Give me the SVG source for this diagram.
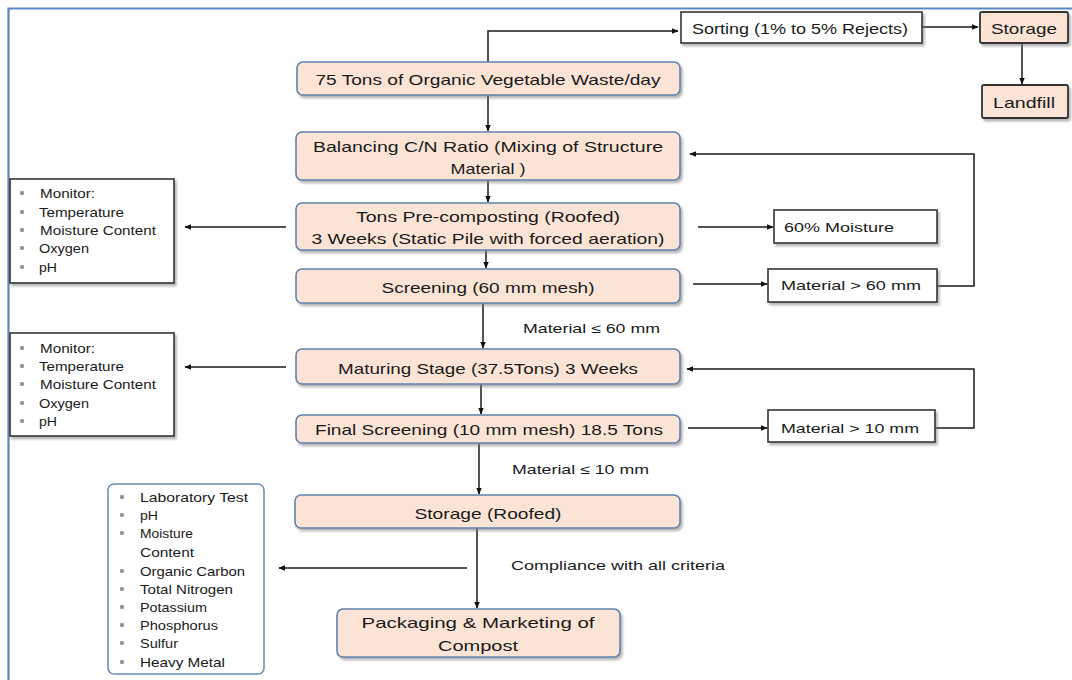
<svg xmlns="http://www.w3.org/2000/svg" width="1072" height="680" viewBox="0 0 1072 680">
  <defs>
    <filter id="shadow" x="-10%" y="-20%" width="120%" height="150%">
      <feDropShadow dx="2" dy="2.5" stdDeviation="1.2" flood-color="#7a7a7a" flood-opacity="0.55"/>
    </filter>
    <marker id="arrow" viewBox="0 0 10 10" refX="9" refY="5" markerWidth="7" markerHeight="7" markerUnits="userSpaceOnUse" orient="auto">
      <path d="M0,1 L10,5 L0,9 z" fill="#111"/>
    </marker>
    <!-- list bullet, centred on its anchor point -->
    <rect id="dot" x="-1.8" y="-1.8" width="3.6" height="3.6" fill="#8a8a8a"/>
    <style>
      .stage { fill: #fbe4d5; stroke: #5f83ad; stroke-width: 1.6; filter: url(#shadow); }
      .tail { fill: #fbe4d5; stroke: #333; stroke-width: 1.8; filter: url(#shadow); }
      .plain { fill: #fff; stroke: #333; stroke-width: 1.6; filter: url(#shadow); }
      .lab { fill: #fff; stroke: #6f8fb6; stroke-width: 1.6; }
      .frame { fill: none; stroke: #5b87c5; stroke-width: 2.2; }
      .t { font-family: "Liberation Sans", Arial, sans-serif; font-size: 15px; fill: #1a1a1a; text-anchor: middle; dominant-baseline: central; }
      .s { font-family: "Liberation Sans", Arial, sans-serif; font-size: 13px; fill: #1a1a1a; dominant-baseline: central; }
      .c path { fill: none; stroke: #1a1a1a; stroke-width: 1.5; }
    </style>
  </defs>

  <rect width="1072" height="680" fill="#fff"/>
  <path class="frame" d="M8.5,680 V8.5 H1072"/>

  <!-- connectors -->
  <g id="connectors" class="c">
    <path d="M488,62 V31 H678" marker-end="url(#arrow)"/>
    <path d="M922,27 H978" marker-end="url(#arrow)"/>
    <path d="M1022,43 V84" marker-end="url(#arrow)"/>
    <path d="M488,95 V131" marker-end="url(#arrow)"/>
    <path d="M488,180 V202" marker-end="url(#arrow)"/>
    <path d="M486,250 V268" marker-end="url(#arrow)"/>
    <path d="M483,303 V348" marker-end="url(#arrow)"/>
    <path d="M481,384 V414" marker-end="url(#arrow)"/>
    <path d="M479,443 V494" marker-end="url(#arrow)"/>
    <path d="M477,528 V608" marker-end="url(#arrow)"/>
    <path d="M698,227 H773" marker-end="url(#arrow)"/>
    <path d="M693,284 H767" marker-end="url(#arrow)"/>
    <path d="M937,286 H974 V154 H690" marker-end="url(#arrow)"/>
    <path d="M688,428 H767" marker-end="url(#arrow)"/>
    <path d="M935,428 H974 V369 H687" marker-end="url(#arrow)"/>
    <path d="M286,227 H185" marker-end="url(#arrow)"/>
    <path d="M286,367 H185" marker-end="url(#arrow)"/>
    <path d="M467,568 H279" marker-end="url(#arrow)"/>
  </g>

  <!-- main process stages -->
  <g id="waste-input">
    <rect class="stage" x="297" y="62" width="383" height="33" rx="6"/>
    <text class="t" x="488" y="79" textLength="345" lengthAdjust="spacingAndGlyphs">75 Tons of Organic Vegetable Waste/day</text>
  </g>
  <g id="sorting">
    <rect class="plain" x="681" y="12" width="241" height="31"/>
    <text class="t" x="800" y="28" textLength="216" lengthAdjust="spacingAndGlyphs">Sorting (1% to 5% Rejects)</text>
  </g>
  <g id="reject-storage">
    <rect class="tail" x="980" y="12" width="88" height="31" rx="2"/>
    <text class="t" x="1024" y="28" textLength="66" lengthAdjust="spacingAndGlyphs">Storage</text>
  </g>
  <g id="landfill">
    <rect class="tail" x="982" y="85" width="86" height="33" rx="2"/>
    <text class="t" x="1024" y="102" textLength="62" lengthAdjust="spacingAndGlyphs">Landfill</text>
  </g>
  <g id="balancing">
    <rect class="stage" x="296" y="132" width="384" height="48" rx="6"/>
    <text class="t" x="488" y="146" textLength="350" lengthAdjust="spacingAndGlyphs">Balancing C/N Ratio (Mixing of Structure</text>
    <text class="t" x="488" y="168" textLength="75" lengthAdjust="spacingAndGlyphs">Material )</text>
  </g>
  <g id="pre-composting">
    <rect class="stage" x="296" y="203" width="384" height="47" rx="6"/>
    <text class="t" x="488" y="216" textLength="264" lengthAdjust="spacingAndGlyphs">Tons Pre-composting (Roofed)</text>
    <text class="t" x="488" y="238" textLength="353" lengthAdjust="spacingAndGlyphs">3 Weeks (Static Pile with forced aeration)</text>
  </g>
  <g id="moisture">
    <rect class="plain" x="774" y="210" width="163" height="33"/>
    <text class="s" x="784" y="227" textLength="110" lengthAdjust="spacingAndGlyphs">60% Moisture</text>
  </g>
  <g id="screening">
    <rect class="stage" x="296" y="269" width="384" height="34" rx="6"/>
    <text class="t" x="488" y="287" textLength="213" lengthAdjust="spacingAndGlyphs">Screening (60 mm mesh)</text>
  </g>
  <g id="oversize-60">
    <rect class="plain" x="768" y="269" width="169" height="33"/>
    <text class="s" x="781" y="285" textLength="140" lengthAdjust="spacingAndGlyphs">Material &gt; 60 mm</text>
  </g>
  <text class="s" x="523" y="328" textLength="137" lengthAdjust="spacingAndGlyphs">Material ≤ 60 mm</text>
  <g id="maturing">
    <rect class="stage" x="296" y="349" width="384" height="35" rx="6"/>
    <text class="t" x="488" y="368" textLength="300" lengthAdjust="spacingAndGlyphs">Maturing Stage (37.5Tons) 3 Weeks</text>
  </g>
  <g id="final-screening">
    <rect class="stage" x="296" y="415" width="384" height="28" rx="6"/>
    <text class="t" x="489" y="429" textLength="348" lengthAdjust="spacingAndGlyphs">Final Screening (10 mm mesh) 18.5 Tons</text>
  </g>
  <g id="oversize-10">
    <rect class="plain" x="768" y="410" width="167" height="32"/>
    <text class="s" x="781" y="428" textLength="138" lengthAdjust="spacingAndGlyphs">Material &gt; 10 mm</text>
  </g>
  <text class="s" x="512" y="469" textLength="137" lengthAdjust="spacingAndGlyphs">Material ≤ 10 mm</text>
  <g id="storage-roofed">
    <rect class="stage" x="295" y="495" width="385" height="33" rx="6"/>
    <text class="t" x="488" y="513" textLength="147" lengthAdjust="spacingAndGlyphs">Storage (Roofed)</text>
  </g>
  <text class="s" x="511" y="565" textLength="214" lengthAdjust="spacingAndGlyphs">Compliance with all criteria</text>
  <g id="packaging">
    <rect class="stage" x="337" y="609" width="283" height="48" rx="6"/>
    <text class="t" x="478" y="622" textLength="233" lengthAdjust="spacingAndGlyphs">Packaging &amp; Marketing of</text>
    <text class="t" x="478" y="645" textLength="80" lengthAdjust="spacingAndGlyphs">Compost</text>
  </g>

  <!-- monitoring lists -->
  <g id="monitor-precomposting">
    <rect class="plain" x="10" y="179" width="164" height="104"/>
    <use href="#dot" x="22" y="193"/>
    <use href="#dot" x="22" y="212"/>
    <use href="#dot" x="22" y="230"/>
    <use href="#dot" x="22" y="248"/>
    <use href="#dot" x="22" y="267"/>
    <text class="s" x="40" y="193" textLength="55" lengthAdjust="spacingAndGlyphs">Monitor:</text>
    <text class="s" x="39" y="212" textLength="85" lengthAdjust="spacingAndGlyphs">Temperature</text>
    <text class="s" x="40" y="230" textLength="116" lengthAdjust="spacingAndGlyphs">Moisture Content</text>
    <text class="s" x="39" y="248" textLength="50" lengthAdjust="spacingAndGlyphs">Oxygen</text>
    <text class="s" x="39" y="267" textLength="18" lengthAdjust="spacingAndGlyphs">pH</text>
  </g>
  <g id="monitor-maturing">
    <rect class="plain" x="10" y="333" width="164" height="103"/>
    <use href="#dot" x="22" y="348"/>
    <use href="#dot" x="22" y="366"/>
    <use href="#dot" x="22" y="384"/>
    <use href="#dot" x="22" y="403"/>
    <use href="#dot" x="22" y="421"/>
    <text class="s" x="40" y="348" textLength="55" lengthAdjust="spacingAndGlyphs">Monitor:</text>
    <text class="s" x="39" y="366" textLength="85" lengthAdjust="spacingAndGlyphs">Temperature</text>
    <text class="s" x="40" y="384" textLength="116" lengthAdjust="spacingAndGlyphs">Moisture Content</text>
    <text class="s" x="39" y="403" textLength="50" lengthAdjust="spacingAndGlyphs">Oxygen</text>
    <text class="s" x="39" y="421" textLength="18" lengthAdjust="spacingAndGlyphs">pH</text>
  </g>
  <g id="lab-tests">
    <rect class="lab" x="108" y="484" width="156" height="190" rx="6"/>
    <use href="#dot" x="122" y="497"/>
    <use href="#dot" x="122" y="515"/>
    <use href="#dot" x="122" y="533"/>
    <use href="#dot" x="122" y="571"/>
    <use href="#dot" x="122" y="589"/>
    <use href="#dot" x="122" y="607"/>
    <use href="#dot" x="122" y="625"/>
    <use href="#dot" x="122" y="643"/>
    <use href="#dot" x="122" y="662"/>
    <text class="s" x="140" y="497" textLength="108" lengthAdjust="spacingAndGlyphs">Laboratory Test</text>
    <text class="s" x="140" y="515" textLength="18" lengthAdjust="spacingAndGlyphs">pH</text>
    <text class="s" x="140" y="533" textLength="53" lengthAdjust="spacingAndGlyphs">Moisture</text>
    <text class="s" x="140" y="552" textLength="54" lengthAdjust="spacingAndGlyphs">Content</text>
    <text class="s" x="140" y="571" textLength="105" lengthAdjust="spacingAndGlyphs">Organic Carbon</text>
    <text class="s" x="140" y="589" textLength="93" lengthAdjust="spacingAndGlyphs">Total Nitrogen</text>
    <text class="s" x="140" y="607" textLength="67" lengthAdjust="spacingAndGlyphs">Potassium</text>
    <text class="s" x="140" y="625" textLength="78" lengthAdjust="spacingAndGlyphs">Phosphorus</text>
    <text class="s" x="140" y="643" textLength="38" lengthAdjust="spacingAndGlyphs">Sulfur</text>
    <text class="s" x="140" y="662" textLength="85" lengthAdjust="spacingAndGlyphs">Heavy Metal</text>
  </g>
</svg>
